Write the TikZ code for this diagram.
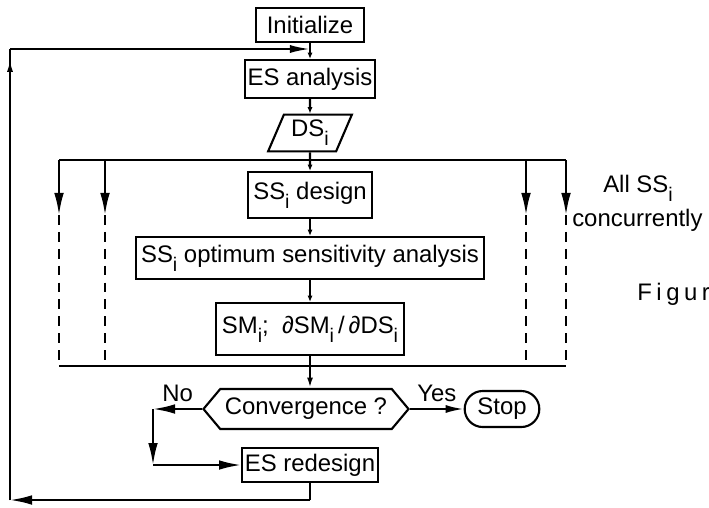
\documentclass[tikz,border=0pt]{standalone}
\usepackage{fontspec}
\setmainfont{Liberation Sans}
\usetikzlibrary{arrows.meta,shapes.geometric,shapes.misc,shapes.symbols}

% lowered index i
\newcommand{\ix}{\raisebox{-6.5pt}{\fontsize{14}{14}\selectfont i}}

\tikzset{
  blok/.style={draw, line width=1.5pt, inner sep=2pt},
  lijn/.style={line width=1.5pt},
  pijl/.style={line width=1.5pt, -{Latex[length=0.55cm,width=0.24cm]}},
  kort/.style={line width=1.5pt, -{Latex[length=0.16cm,width=0.13cm]}},
  stip/.style={line width=1.5pt, dash pattern=on 7pt off 5pt},
}

\begin{document}
\begin{tikzpicture}[x=0.025cm, y=-0.025cm, font=\fontsize{17}{20}\selectfont]
        \useasboundingbox (0,0) rectangle (709,507);
        % Blokken in de kolom
        \node[blok, minimum width=2.68cm, minimum height=0.85cm] (init) at (310,25) {Initialize};
        \node[blok, minimum width=3.05cm, minimum height=0.95cm] (esa) at (310,79) {ES analysis};
        \node[draw, line width=1.5pt, trapezium, trapezium left angle=68, trapezium right angle=112,
              trapezium stretches=true, minimum width=2.1cm, minimum height=0.92cm] (ds) at (310,133) {DS\ix};
        \node[blok, minimum width=3.1cm, minimum height=1.15cm] (ssd) at (310,195) {SS\ix\ design};
        \node[blok, minimum width=8.7cm, minimum height=1.05cm] (sso) at (310,258) {SS\ix\ optimum sensitivity analysis};
        \node[blok, minimum width=4.68cm, minimum height=1.3cm] (sm) at (310,329) {SM\ix;\ \ ∂SM\ix\,/\,∂DS\ix};
        \node[draw, line width=1.5pt, signal, signal to=west and east, signal pointer angle=100,
              minimum width=4.7cm, minimum height=1cm] (conv) at (306,409) {Convergence ?};
        \node[draw, line width=1.5pt, rounded rectangle, minimum width=2.1cm, minimum height=0.9cm] (stop) at (502,409) {Stop};
        \node[blok, minimum width=3.33cm, minimum height=0.85cm] (esr) at (310,465) {ES redesign};

        % Parallelle takken
        \foreach \x [count=\k] in {59,105,526,566} {
          \coordinate (top\k) at (\x,160);
          \coordinate (mid\k) at (\x,215);
          \coordinate (bot\k) at (\x,366);
        }
        \draw[lijn] (top1) -- (top4);
        \draw[lijn] (bot1) -- (bot4);
        \foreach \k in {1,...,4} {
          \draw[pijl] (top\k) -- (mid\k);
          \draw[stip] (mid\k) -- (bot\k);
        }
        \node[anchor=base west, inner sep=0] (allss) at (603,192) {All SS\ix};
        \node[anchor=base west, inner sep=0] (conc) at (572,226) {concurrently};
        \node[anchor=base west, inner sep=0] (fig) at (637,300) {\addfontfeature{LetterSpace=19}Figur};

        % Stroom
        \draw[kort] (init) -- (esa);
        \draw[kort] (esa) -- (ds);
        \draw[kort] (ds) -- (ssd);
        \draw[kort] (ssd) -- (sso);
        \draw[kort] (sso) -- (sm);
        \draw[line width=1.5pt, -{Latex[length=0.26cm,width=0.15cm]}] (sm) -- (sm |- conv.north);
        \draw[line width=1.5pt, -{Latex[length=0.45cm,width=0.2cm]}] (conv.east) -- node[above=1pt] (yes) {Yes} (stop.west);

        % Nee-tak
        \coordinate (nl) at (153,409);
        \coordinate (nd) at (153,465);
        \draw[pijl] (conv.west) -- node[above=1pt] (no) {No} (nl);
        \draw[pijl] (nl) -- (nd);
        \draw[pijl] (nd) -- (esr.west);

        % Terugkoppeling
        \coordinate (rb) at (310,500);
        \coordinate (lb) at (10,500);
        \coordinate (lt) at (10,49);
        \coordinate (jt) at (310,49);
        \draw[lijn] (esr) -- (rb);
        \draw[pijl] (rb) -- (lb);
        \draw[lijn] (lb) -- (lt);
        \draw[line width=1.5pt, -{Latex[length=0.3cm,width=0.15cm]}, shorten >=0.27cm] (lb) -- (lt);
        \draw[line width=1.5pt, -{Latex[length=0.5cm,width=0.2cm]}] (lt) -- (jt);
\end{tikzpicture}
\end{document}
